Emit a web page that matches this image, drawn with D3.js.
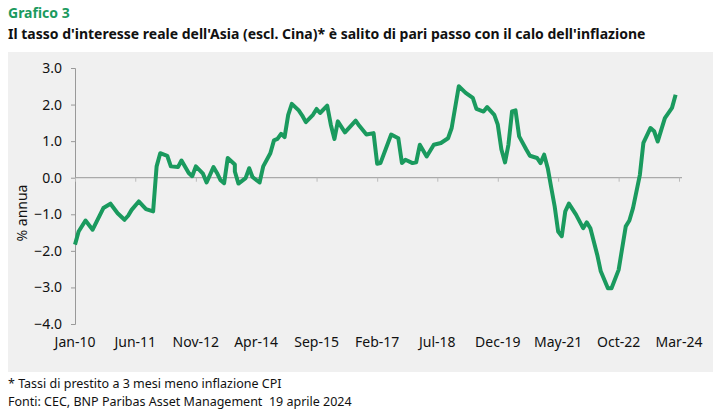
<!DOCTYPE html>
<html><head><meta charset="utf-8">
<script src="https://cdn.jsdelivr.net/npm/d3@7"></script>
<style>body{margin:0;background:#fff}text{font-family:"Noto Sans",sans-serif}</style>
</head><body><svg id="c" width="725" height="419"></svg>
<script>
// months since Jan-10 and real rate (% annua)
const months = [0,1,3,5,8,10,12,14,15,16,18,20,22,23,24,26,27,29,30,32,33,34,36,37,39,40,41,42,43,45,45.5,46,48,49,50,52,53,55,56,57,58,59,60,61,63,64,65,67,68,69,71,72,73,74,76,79,80,82,84,85,86,89,91,92,93,95,96,97,99,101,103,105,106,108,110,112,113,115,116,118,119,120,121,122,123,124,125,127,128,130,131,132,133,134,135,136,137,138,139,141,143,144,145,147,148,150,151,153,155,156,157,159,160,162,163,164,165,166,168,169];
const values = [-1.83,-1.47,-1.17,-1.42,-0.83,-0.71,-0.97,-1.15,-1.04,-0.88,-0.65,-0.86,-0.92,0.31,0.67,0.6,0.31,0.29,0.47,0.13,0.04,0.31,0.11,-0.13,0.29,0.13,-0.07,-0.15,0.54,0.36,0.17,-0.16,-0.01,0.26,0.02,-0.13,0.31,0.67,1.02,1.06,1.2,1.11,1.72,2.02,1.84,1.7,1.52,1.72,1.88,1.77,1.97,1.45,1.06,1.54,1.24,1.56,1.42,1.18,1.22,0.38,0.4,1.18,1.08,0.4,0.49,0.4,0.42,0.9,0.58,0.9,0.95,1.08,1.36,2.5,2.32,2.18,1.88,1.81,1.93,1.72,1.45,0.77,0.42,0.9,1.81,1.84,1.13,0.77,0.6,0.54,0.4,0.63,0.26,-0.24,-0.78,-1.47,-1.6,-0.92,-0.71,-1.01,-1.38,-1.22,-1.38,-2.11,-2.56,-3.02,-3.02,-2.52,-1.33,-1.17,-0.83,0.08,0.95,1.36,1.27,0.99,1.31,1.63,1.91,2.27];
const tickLabels = ["Jan-10","Jun-11","Nov-12","Apr-14","Sep-15","Feb-17","Jul-18","Dec-19","May-21","Oct-22","Mar-24"];
const yTicks = [3,2,1,0,-1,-2,-3,-4];

const start = new Date(2010,0,1);
const dates = months.map(m => d3.timeMonth.offset(start, Math.floor(m)));
const tickDates = tickLabels.map((l,i) => d3.timeMonth.offset(start, i*17));

const svg = d3.select('#c');
svg.append('rect').attr('x',8).attr('y',52).attr('width',705).attr('height',320).attr('fill','#f0f0f0');

svg.append('text').attr('x',8).attr('y',18).attr('fill','#1a9a5e').style('font-size','14px').style('font-weight','700').text('Grafico 3');
svg.append('text').attr('x',8).attr('y',39).attr('fill','#111').style('font-size','14px').style('font-weight','700')
  .text("Il tasso d'interesse reale dell'Asia (escl. Cina)* è salito di pari passo con il calo dell'inflazione");

const x = d3.scaleTime().domain([start, d3.timeMonth.offset(start,170)]).range([75,679]);
const y = d3.scaleLinear().domain([-4,3]).range([324,68]);

const yAxis = svg.append('g').attr('transform','translate(75,0)')
  .call(d3.axisLeft(y).tickValues(yTicks).tickFormat(d3.format('.1f')).tickSize(4));
yAxis.select('.domain').attr('stroke','#999');
yAxis.selectAll('line').attr('stroke','#999');
yAxis.selectAll('text').attr('fill','#111').style('font-size','14px').attr('dx','-6');

const xAxis = svg.append('g').attr('transform',`translate(0,${y(0)})`)
  .call(d3.axisBottom(x).tickValues(tickDates).tickFormat('').tickSize(4));
xAxis.select('.domain').attr('stroke','#999').attr('d','M75,0H682');
xAxis.selectAll('line').attr('stroke','#bbb');
svg.append('g').selectAll('text').data(tickDates).join('text')
  .attr('x',d=>x(d)).attr('y',347).attr('text-anchor','middle').attr('fill','#111').style('font-size','14px')
  .text((d,i)=>tickLabels[i]);

svg.append('text').attr('transform','translate(27,213) rotate(-90)').attr('text-anchor','middle')
  .attr('fill','#111').style('font-size','14px').text('% annua');

const line = d3.line().x((d,i)=>x(dates[i])).y(d=>y(d)).curve(d3.curveLinear);
svg.append('path').datum(values).attr('d',line).attr('fill','none').attr('stroke','#1a9a5e')
  .attr('stroke-width',4).attr('stroke-linejoin','round');

svg.append('text').attr('x',8).attr('y',388).attr('fill','#111').style('font-size','12.5px').text('* Tassi di prestito a 3 mesi meno inflazione CPI');
svg.append('text').attr('x',8).attr('y',406).attr('fill','#111').style('font-size','12.5px').attr('xml:space','preserve').style('white-space','pre')
  .text('Fonti: CEC, BNP Paribas Asset Management  19 aprile 2024');
</script></body></html>
